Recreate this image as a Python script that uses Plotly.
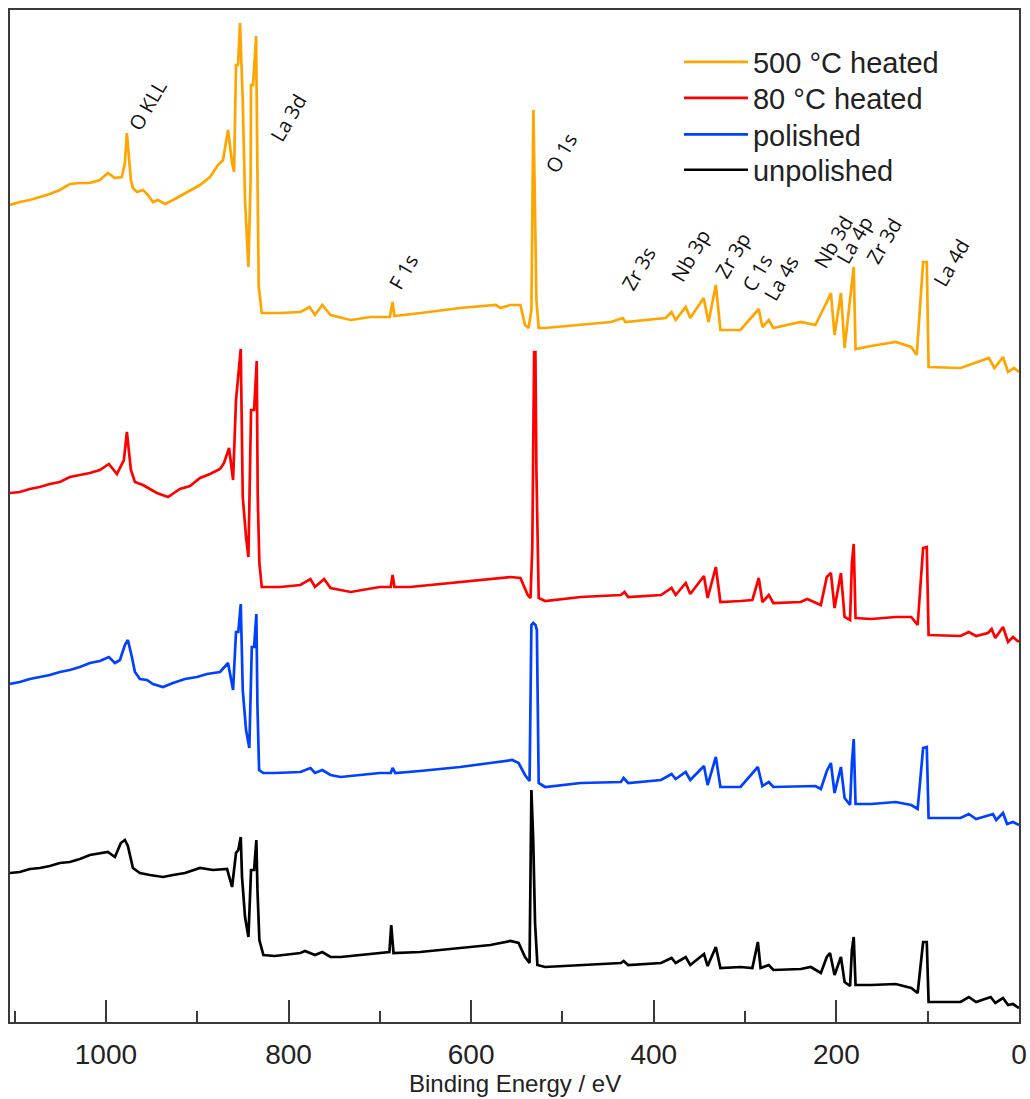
import plotly.graph_objects as go

# XPS survey spectra: binding energy (eV) and intensity (arbitrary units, vertically stacked)
be_500 = [1105, 1094.3, 1083.3, 1072.4, 1061.4, 1050.4, 1039.5, 1028.5, 1017.5, 1006.6,
          997.8, 990.1, 982.5, 979.2, 977, 972.6, 970.4, 966, 959.4, 953.9,
          948.5, 943, 935.3, 926.5, 916.7, 907.9, 896.9, 885.9, 877.2, 871.7,
          866.2, 861.8, 859.6, 857.5, 855.3, 853.1, 850.1, 847.6, 843.9, 841.5,
          841, 838.8, 835.5, 834, 832.6, 829.3, 809, 787, 777, 771,
          763, 754, 732, 710, 689, 686, 684, 655, 612, 573,
          568, 557, 546, 541, 537, 534, 531.8, 528.5, 526, 519,
          480, 447, 434, 431, 387, 380.5, 376, 365, 360, 345.4,
          340, 332, 327, 305, 285, 281, 274, 269, 239, 223,
          210.5, 206, 202, 195, 191, 184, 181, 179, 162, 135,
          118, 112, 105, 101, 99, 64, 33, 27, 17.5, 12, 5.5, 0]
int_500 = [817, 820, 822, 825, 828, 832, 838, 839, 839, 842,
           849, 844, 845, 859, 889, 842, 834, 830, 832, 827,
           820, 822, 818, 822, 827, 831, 837, 845, 857, 862,
           892, 859, 850, 957, 957, 999, 922, 822, 755, 842,
           937, 937, 986, 849, 735, 709, 709, 710, 715, 707,
           717, 707, 702, 705, 705, 720, 706, 709, 714, 717,
           714, 717, 717, 697, 694, 712, 912, 722, 694, 694,
           697, 700, 704, 700, 704, 710, 702, 715, 704, 724,
           700, 737, 692, 692, 713, 695, 702, 694, 700, 697,
           720, 729, 687, 729, 674, 732, 755, 673, 676, 680,
           675, 667, 760, 760, 655, 654, 664, 654, 665, 650, 654, 650]

be_80 = [1105, 1094.3, 1083.3, 1072.4, 1061.4, 1050.4, 1039.5, 1028.5, 1017.5, 1006.6,
         996.7, 987.9, 980.3, 977, 972.6, 968.2, 959.4, 951.8, 944.1, 932,
         918.9, 907.9, 896.9, 885.9, 875, 870.6, 865.1, 860.7, 857.5, 852.3,
         850.1, 846.5, 843.9, 841, 837.7, 834.8, 833.7, 831.9, 829.3, 809,
         787, 776, 771, 761, 754, 743, 732, 700, 688, 686, 684,
         667, 623, 590, 557, 546, 538, 535, 533, 531, 529.6,
         528.5, 526, 519, 480, 436, 432, 428, 392, 380.5, 376,
         365, 360, 345, 341, 332, 327, 305, 292, 285, 281,
         274, 269, 239, 232, 217, 210.5, 206, 202, 195, 191,
         185, 183, 181, 179, 162, 135, 118, 111, 105, 101,
         99, 64, 55, 47, 34, 30, 26, 17.5, 12, 6.6, 0]
int_80 = [529, 530, 533, 535, 538, 540, 545, 547, 549, 552,
          558, 548, 562, 590, 552, 540, 537, 533, 529, 525,
          533, 536, 544, 548, 553, 559, 574, 542, 622, 673,
          525, 485, 465, 612, 612, 661, 525, 459, 435, 435,
          437, 443, 435, 443, 434, 432, 430, 435, 435, 447, 435,
          435, 439, 442, 445, 444, 427, 424, 475, 670, 670,
          552, 424, 421, 425, 427, 430, 425, 427, 434, 427,
          439, 428, 446, 424, 455, 420, 421, 422, 444, 420,
          427, 419, 420, 423, 417, 445, 449, 414, 449, 405,
          402, 459, 478, 404, 403, 405, 405, 397, 474, 475,
          387, 386, 390, 386, 389, 393, 384, 395, 380, 385, 380]

be_pol = [1105, 1094.3, 1083.3, 1072.4, 1061.4, 1050.4, 1039.5, 1028.5, 1017.5, 1006.6,
          996.7, 990.1, 984.6, 979.2, 975.9, 971.5, 968.2, 962.7, 955, 948.5,
          937.5, 926.5, 913.4, 900.2, 889.3, 875, 866.2, 860.7, 857.5, 855,
          852.3, 850.1, 846.5, 842.9, 840.2, 837.7, 835.2, 834, 832.2, 827.5,
          815, 787, 776, 771, 763, 754, 743, 700, 688, 686, 683,
          656, 612, 579, 555, 548, 541, 536, 534, 532, 529.5,
          528, 526, 519, 480, 436, 433, 428, 392, 380.5, 376,
          365, 360, 345, 341, 332, 327, 305, 286, 281, 274,
          269, 239, 223, 217, 210.5, 206, 202, 195, 191, 185,
          183, 181, 179, 162, 135, 118, 111, 105, 101, 99,
          64, 55, 47, 32, 28.5, 25, 17.5, 13, 6.6, 0]
int_pol = [338, 340, 343, 345, 347, 350, 352, 355, 359, 361,
           365, 359, 362, 377, 382, 365, 350, 343, 342, 338,
           335, 339, 343, 345, 348, 350, 359, 332, 390, 390,
           418, 332, 292, 274, 375, 375, 408, 315, 252, 249,
           249, 250, 254, 249, 252, 247, 245, 249, 249, 254, 249,
           251, 255, 259, 262, 259, 247, 241, 397, 399, 397,
           392, 239, 235, 239, 240, 244, 239, 242, 248, 243,
           250, 242, 256, 237, 265, 235, 235, 255, 236, 240,
           235, 236, 236, 233, 251, 259, 229, 255, 224, 217,
           259, 283, 218, 218, 220, 217, 213, 274, 275, 204,
           204, 208, 203, 207, 208, 202, 209, 198, 200, 197]

be_unpol = [1105, 1094.3, 1083.3, 1072.4, 1061.4, 1050.4, 1039.5, 1028.5, 1017.5, 1006.6,
            997.8, 990.1, 983.6, 979.2, 975.9, 970.4, 962.7, 951.8, 937.5, 926.5,
            913.4, 896.9, 882.7, 867.3, 861.8, 857.5, 855, 852.3, 850.9, 847.6,
            843.9, 841, 837.7, 835.2, 834, 831.9, 827.5, 815, 787, 782,
            771, 763, 754, 743, 700, 689.5, 687.5, 685, 656, 612, 579,
            557, 548, 541, 536, 534, 532, 530, 527.4, 519, 480,
            436, 433, 428, 392, 380.5, 376, 365, 360, 345, 341,
            332, 327, 305, 292, 286, 283, 274, 269, 239, 228,
            217, 210.5, 207, 202, 195, 191, 185, 183, 181, 179,
            162, 135, 118, 111, 105, 101, 99, 64, 55, 47,
            31, 26, 17.5, 12, 6.6, 0]
int_unpol = [149, 150, 153, 154, 156, 159, 160, 163, 167, 169,
             170, 165, 179, 182, 176, 154, 149, 147, 145, 147,
             149, 154, 152, 153, 135, 169, 172, 185, 145, 105,
             85, 152, 152, 182, 132, 82, 67, 66, 69, 71,
             67, 70, 65, 65, 69, 70, 97, 69, 70, 74, 77,
             81, 79, 65, 59, 232, 182, 99, 57, 55, 57,
             59, 61, 57, 59, 64, 59, 65, 57, 68, 56,
             75, 54, 55, 54, 80, 54, 57, 52, 53, 55,
             49, 65, 69, 47, 65, 40, 36, 72, 85, 37,
             37, 38, 34, 29, 80, 80, 20, 20, 25, 20,
             25, 19, 24, 17, 18, 14]

series_names = ["500 °C heated", "80 °C heated", "polished", "unpolished"]
series_colors = ["#FFA500", "#FF0000", "#0040FF", "#000000"]
series_x = [be_500, be_80, be_pol, be_unpol]
series_y = [int_500, int_80, int_pol, int_unpol]
for xs, ys in zip(series_x, series_y):
    assert len(xs) == len(ys), (len(xs), len(ys))

# Peak assignments
peak_labels = ["O KLL", "La 3d", "F 1s", "O 1s", "Zr 3s", "Nb 3p", "Zr 3p", "C 1s", "La 4s",
               "Nb 3d", "La 4p", "Zr 3d", "La 4d"]
# label placement (binding energy, intensity) for each assignment
label_pos = [(955, 917), (801, 904), (675, 750), (502, 869), (417, 754), (360, 767), (314, 767),
             (287, 750), (261, 744), (204, 780), (181, 782), (148, 782), (75, 759)]

tick_vals = [1000, 800, 600, 400, 200, 0]
tick_text = ["1000", "800", "600", "400", "200", "0"]
x_title = "Binding Energy / eV"

legend_ids = ["legend", "legend2", "legend3", "legend4"]
legend_rows = [0.9486, 0.9131, 0.8770, 0.8420]

fig = go.Figure()
for name, color, xs, ys, lg in zip(series_names, series_colors, series_x, series_y, legend_ids):
    fig.add_trace(go.Scatter(x=xs, y=ys, mode="lines", name=name, legend=lg,
                             line=dict(color=color, width=2.7)))

for text, (bx, by) in zip(peak_labels, label_pos):
    fig.add_annotation(x=bx, y=by, text=text, showarrow=False, textangle=-60,
                       xanchor="center", yanchor="middle",
                       font=dict(family="Open Sans", size=20, color="#111111"))

# axis title placed beneath the tick labels
fig.add_annotation(x=0.5, y=-0.0030, xref="paper", yref="paper", yshift=-58, text=x_title,
                   showarrow=False, xanchor="center", yanchor="middle",
                   borderpad=0,
                   font=dict(family="Liberation Sans", size=24, color="#222222"))

legend_style = dict(x=0.663, xanchor="left", yanchor="middle",
                    font=dict(size=29, color="#222222", family="Liberation Sans"),
                    bgcolor="rgba(0,0,0,0)", itemwidth=64)
legends = {lg: dict(legend_style, y=yy) for lg, yy in zip(legend_ids, legend_rows)}

axis_color = "#3a3a3a"
fig.update_layout(
    width=1030, height=1099,
    margin=dict(l=10, r=11, t=10, b=77, autoexpand=False),
    plot_bgcolor="white", paper_bgcolor="white",
    font=dict(family="Liberation Sans", color="#222222"),
    showlegend=True,
    xaxis=dict(range=[1105, 0], tickvals=tick_vals, ticktext=tick_text, automargin=False,
               ticks="inside", ticklen=22, tickwidth=2, tickcolor=axis_color,
               minor=dict(dtick=100, ticks="inside", ticklen=11, tickwidth=2, tickcolor=axis_color),
               showline=True, linewidth=2, linecolor=axis_color, mirror=True,
               showgrid=False, zeroline=False, ticklabelstandoff=6,
               tickfont=dict(size=28, color="#222222")),
    yaxis=dict(range=[0, 1012], showticklabels=False, ticks="", showgrid=False, zeroline=False,
               automargin=False,
               showline=True, linewidth=2, linecolor=axis_color, mirror=True),
    **legends,
)

fig.write_html("out.html")
